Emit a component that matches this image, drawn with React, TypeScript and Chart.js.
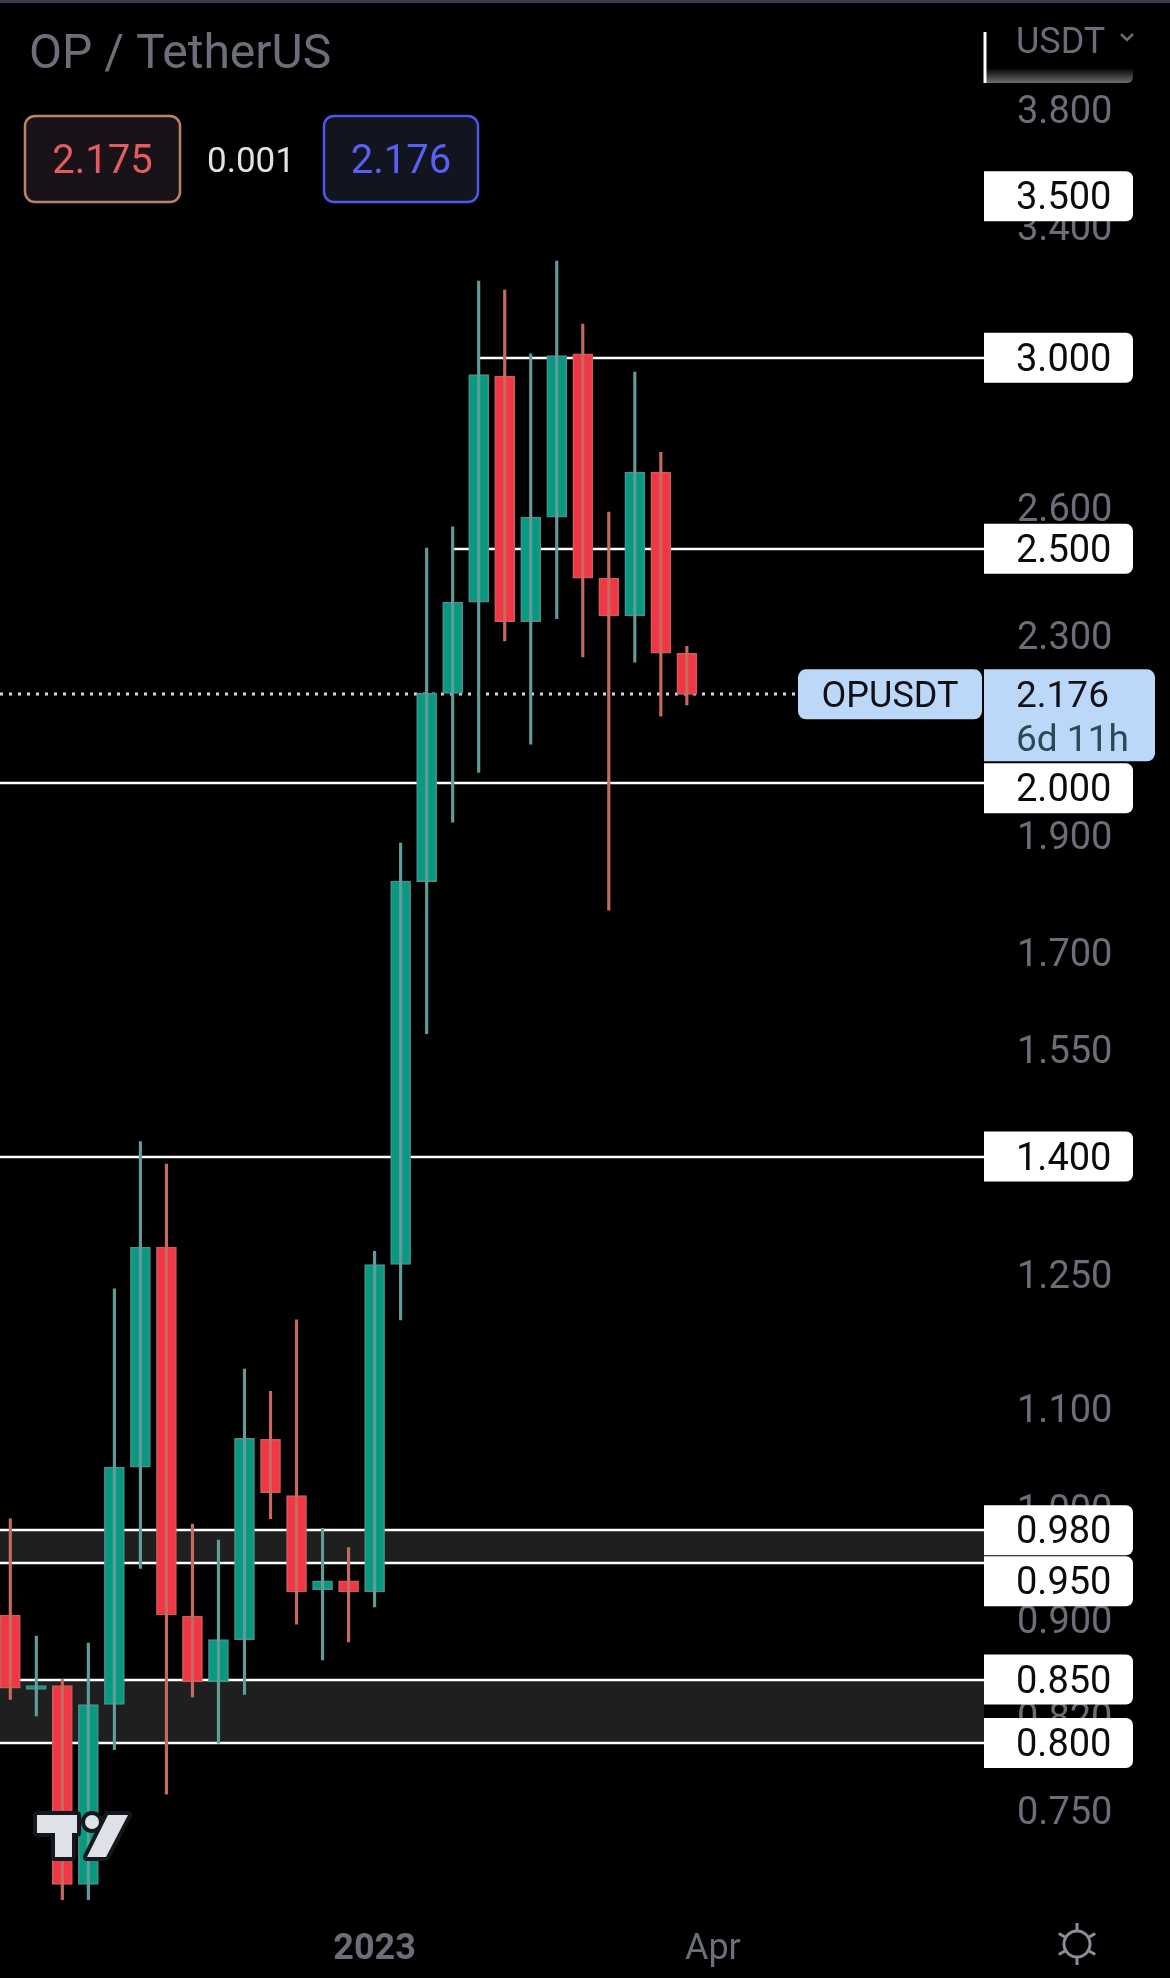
import React, { useEffect, useRef } from 'react';
import { Chart, registerables } from 'chart.js';

Chart.register(...registerables);

// ---- data (weekly candles, OP / TetherUS) ----
const weeks = [
  '2022-09-26', '2022-10-03', '2022-10-10', '2022-10-17', '2022-10-24', '2022-10-31',
  '2022-11-07', '2022-11-14', '2022-11-21', '2022-11-28', '2022-12-05', '2022-12-12',
  '2022-12-19', '2022-12-26', '2023-01-02', '2023-01-09', '2023-01-16', '2023-01-23',
  '2023-01-30', '2023-02-06', '2023-02-13', '2023-02-20', '2023-02-27', '2023-03-06',
  '2023-03-13', '2023-03-20', '2023-03-27',
];
const opens = [
  0.904, 0.842, 0.845, 0.699, 0.830, 1.041, 1.284, 0.903, 0.848, 0.883, 1.069, 1.013,
  0.926, 0.934, 0.924, 1.263, 1.820, 2.178, 2.376, 2.948, 2.332, 2.577, 3.011, 2.431,
  2.345, 2.690, 2.263,
];
const highs = [
  0.991, 0.886, 0.850, 0.880, 1.234, 1.420, 1.390, 0.986, 0.971, 1.143, 1.119, 1.198,
  0.982, 0.964, 1.279, 1.888, 2.502, 2.553, 3.228, 3.200, 3.011, 3.290, 3.098, 2.589,
  2.959, 2.741, 2.278,
];
const lows = [
  0.834, 0.821, 0.689, 0.689, 0.795, 0.945, 0.762, 0.836, 0.800, 0.838, 0.991, 0.896,
  0.866, 0.881, 0.911, 1.198, 1.574, 1.926, 2.020, 2.290, 2.075, 2.339, 2.255, 1.771,
  2.244, 2.131, 2.154,
];
const closes = [
  0.843, 0.845, 0.699, 0.830, 1.041, 1.284, 0.904, 0.848, 0.883, 1.070, 1.016, 0.924,
  0.934, 0.924, 1.263, 1.821, 2.178, 2.376, 2.952, 2.332, 2.577, 3.006, 2.431, 2.345,
  2.690, 2.263, 2.176,
];

const yTickValues = [3.8, 3.4, 2.6, 2.3, 1.9, 1.7, 1.55, 1.25, 1.1, 1.0, 0.9, 0.82, 0.75];
const xTickIndexes = [14, 27];
const xTickLabels = ['2023', 'Apr'];

const levelValues = [3.5, 3.0, 2.5, 2.0, 1.4, 0.98, 0.95, 0.85, 0.8];
// candle index where each horizontal line starts (-1 = from the left edge, null = label only)
const levelLineStart: (number | null)[] = [null, 18, 17, -1, -1, -1, -1, -1, -1];
const zoneLows = [0.95, 0.8];
const zoneHighs = [0.98, 0.85];

const lastPrice = 2.176;
const bidPrice = 2.175;
const askPrice = 2.176;
const spreadValue = 0.001;
const symbolName = 'OPUSDT';
const titleText = 'OP / TetherUS';
const countdownText = '6d 11h';
const quoteCurrency = 'USDT';

// ---- view ----
const X_MIN = -0.396;
const X_MAX = 37.42;
const Y_MIN = 0.6822;
const Y_MAX = 4.2206;

const UP = '#089981';
const DOWN = '#f23645';
const UP_WICK = '#5f9c9a';
const DOWN_WICK = '#c46a5e';
const UP_EDGE = '#4f8f8b';
const DOWN_EDGE = '#c8605a';
const AXIS_GRAY = '#6b6e79';
const FONT = 'Roboto, "Noto Sans", sans-serif';
const TXT_DY = 3.5;

function rr(ctx: CanvasRenderingContext2D, x: number, y: number, w: number, h: number, r: number[]) {
  const [tl, tr, br, bl] = r;
  ctx.beginPath();
  ctx.moveTo(x + tl, y);
  ctx.lineTo(x + w - tr, y);
  ctx.arcTo(x + w, y, x + w, y + tr, tr);
  ctx.lineTo(x + w, y + h - br);
  ctx.arcTo(x + w, y + h, x + w - br, y + h, br);
  ctx.lineTo(x + bl, y + h);
  ctx.arcTo(x, y + h, x, y + h - bl, bl);
  ctx.lineTo(x, y + tl);
  ctx.arcTo(x, y, x + tl, y, tl);
  ctx.closePath();
}

const overlayPlugin = {
  id: 'tvOverlay',
  beforeDatasetsDraw(chart: any) {
    const { ctx, chartArea: a, scales } = chart;
    const x = scales.x;
    const y = scales.y;
    ctx.save();
    // zones
    ctx.fillStyle = '#1f1f1f';
    zoneLows.forEach((lo, k) => {
      const top = y.getPixelForValue(zoneHighs[k]);
      const bot = y.getPixelForValue(lo);
      ctx.fillRect(a.left, top, a.right - a.left, bot - top);
    });
    // level lines
    ctx.strokeStyle = '#ffffff';
    ctx.lineWidth = 2.5;
    levelValues.forEach((v, k) => {
      const s = levelLineStart[k];
      if (s === null) return;
      const x0 = s < 0 ? a.left : x.getPixelForValue(s);
      const py = Math.round(y.getPixelForValue(v));
      ctx.beginPath();
      ctx.moveTo(x0, py);
      ctx.lineTo(a.right, py);
      ctx.stroke();
    });
    // last price dotted line
    const lp = Math.round(y.getPixelForValue(lastPrice));
    ctx.strokeStyle = '#d3d7ee';
    ctx.lineWidth = 3;
    ctx.setLineDash([3, 6]);
    ctx.beginPath();
    ctx.moveTo(a.left, lp);
    ctx.lineTo(a.right - 186, lp);
    ctx.stroke();
    ctx.setLineDash([]);
    ctx.restore();
  },
  afterDraw(chart: any) {
    const { ctx, chartArea: a, scales } = chart;
    const y = scales.y;
    const W = chart.width;
    ctx.save();

    // last price label geometry
    const lp = y.getPixelForValue(lastPrice);
    const pTop = lp - 25;
    const pBottom = pTop + 92;

    // axis level labels (pushed down when they would overlap)
    ctx.textBaseline = 'middle';
    ctx.textAlign = 'left';
    const items = levelValues
      .map((v) => ({ v, c: y.getPixelForValue(v) }))
      .sort((p, q) => p.c - q.c);
    let prevBottom = -Infinity;
    items.forEach(({ v, c }) => {
      let top = c - 25;
      if (top < pBottom && top + 50 > pTop) top = pBottom + 2;
      if (top < prevBottom + 1) top = prevBottom + 1;
      prevBottom = top + 50;
      ctx.fillStyle = '#ffffff';
      rr(ctx, a.right, top, 149, 50, [0, 7, 7, 0]);
      ctx.fill();
      ctx.fillStyle = '#0b0b0f';
      ctx.font = `38px ${FONT}`;
      ctx.fillText(v.toFixed(3), a.right + 32, top + 25 + TXT_DY);
    });

    // last price labels
    ctx.fillStyle = '#bcd8f9';
    rr(ctx, a.right - 186, pTop, 184, 50, [8, 8, 8, 8]);
    ctx.fill();
    rr(ctx, a.right, pTop, 171, 92, [0, 8, 8, 0]);
    ctx.fill();
    ctx.fillStyle = '#101015';
    ctx.font = `36px ${FONT}`;
    ctx.textAlign = 'center';
    ctx.fillText(symbolName, a.right - 94, lp + TXT_DY);
    ctx.textAlign = 'left';
    ctx.font = `37px ${FONT}`;
    ctx.fillText(lastPrice.toFixed(3), a.right + 32, lp + TXT_DY);
    ctx.fillStyle = '#2c4856';
    ctx.fillText(countdownText, a.right + 32, lp + 44 + TXT_DY);

    // top border
    ctx.fillStyle = '#3a3c47';
    ctx.fillRect(0, 0, W, 3);

    // header title
    ctx.textBaseline = 'alphabetic';
    ctx.fillStyle = '#6c6f7a';
    ctx.font = `48px ${FONT}`;
    ctx.fillText(titleText, 29, 68);

    // bid / ask boxes
    ctx.lineWidth = 2.5;
    ctx.fillStyle = '#1a1219';
    rr(ctx, 25, 116, 155, 86, [10, 10, 10, 10]);
    ctx.fill();
    ctx.strokeStyle = '#b98562';
    ctx.stroke();
    ctx.fillStyle = '#121520';
    rr(ctx, 324, 116, 154, 86, [10, 10, 10, 10]);
    ctx.fill();
    ctx.strokeStyle = '#4f55e8';
    ctx.stroke();
    ctx.font = `40px ${FONT}`;
    ctx.textAlign = 'center';
    ctx.fillStyle = '#e35c60';
    ctx.fillText(bidPrice.toFixed(3), 102.5, 173);
    ctx.fillStyle = '#5a60f2';
    ctx.fillText(askPrice.toFixed(3), 401, 173);
    ctx.fillStyle = '#e2e2e2';
    ctx.font = `35px ${FONT}`;
    ctx.fillText(spreadValue.toFixed(3), 251, 172);

    // currency selector top right
    ctx.textAlign = 'left';
    ctx.fillStyle = '#6a6d78';
    ctx.font = `36px ${FONT}`;
    ctx.fillText(quoteCurrency, 1016, 53);
    ctx.strokeStyle = '#6a6d78';
    ctx.lineWidth = 2.5;
    ctx.beginPath();
    ctx.moveTo(1121, 34);
    ctx.lineTo(1127, 40);
    ctx.lineTo(1133, 34);
    ctx.stroke();
    const g = ctx.createLinearGradient(0, 68, 0, 83);
    g.addColorStop(0, '#000000');
    g.addColorStop(1, '#6e6e72');
    ctx.fillStyle = g;
    rr(ctx, 986, 68, 147, 15, [0, 0, 6, 0]);
    ctx.fill();
    ctx.fillStyle = '#ffffff';
    ctx.fillRect(983.5, 32, 3, 51);

    // settings gear
    const gx = 1077, gy = 1944;
    ctx.strokeStyle = '#8b8e97';
    ctx.lineWidth = 3;
    ctx.beginPath();
    ctx.arc(gx, gy, 13, 0, Math.PI * 2);
    ctx.stroke();
    [90, 270, 30, 150, 210, 330].forEach((deg) => {
      const r = (deg * Math.PI) / 180;
      ctx.beginPath();
      ctx.moveTo(gx + Math.cos(r) * 14, gy - Math.sin(r) * 14);
      ctx.lineTo(gx + Math.cos(r) * 21, gy - Math.sin(r) * 21);
      ctx.stroke();
    });

    // TradingView logo
    const tShape = new Path2D();
    tShape.moveTo(37, 1815);
    tShape.lineTo(77, 1815);
    tShape.lineTo(77, 1833);
    tShape.lineTo(72, 1833);
    tShape.lineTo(72, 1857);
    tShape.lineTo(55, 1857);
    tShape.lineTo(55, 1833);
    tShape.lineTo(37, 1833);
    tShape.closePath();
    const dot = new Path2D();
    dot.arc(92, 1822, 7, 0, Math.PI * 2);
    const slash = new Path2D();
    slash.moveTo(108, 1815);
    slash.lineTo(128, 1815);
    slash.lineTo(106, 1857);
    slash.lineTo(87, 1857);
    slash.closePath();
    ctx.lineJoin = 'round';
    ctx.strokeStyle = '#15171e';
    ctx.lineWidth = 8;
    [tShape, dot, slash].forEach((p) => ctx.stroke(p));
    ctx.fillStyle = '#dfe1e8';
    [tShape, dot, slash].forEach((p) => ctx.fill(p));

    ctx.restore();
  },
};

export default function App() {
  const ref = useRef<HTMLCanvasElement | null>(null);

  useEffect(() => {
    if (!ref.current) return;
    const isUp = weeks.map((_, i) => closes[i] >= opens[i]);
    const chart = new Chart(ref.current, {
      type: 'bar',
      data: {
        datasets: [
          {
            label: 'wick',
            data: weeks.map((_, i) => ({ x: i, y: [lows[i], highs[i]] })) as any,
            backgroundColor: isUp.map((u) => (u ? UP_WICK : DOWN_WICK)),
            barThickness: 2.5,
            borderWidth: 0,
            grouped: false,
          } as any,
          {
            label: 'body',
            data: weeks.map((_, i) => ({ x: i, y: [opens[i], closes[i]] })) as any,
            backgroundColor: isUp.map((u) => (u ? UP : DOWN)),
            borderColor: isUp.map((u) => (u ? UP_EDGE : DOWN_EDGE)),
            borderWidth: 1.5,
            borderSkipped: false,
            barThickness: 20,
            grouped: false,
          } as any,
        ],
      },
      options: {
        responsive: false,
        animation: false,
        devicePixelRatio: 1,
        events: [],
        layout: { padding: 0, autoPadding: false } as any,
        plugins: { legend: { display: false }, tooltip: { enabled: false } },
        scales: {
          x: {
            type: 'linear',
            min: X_MIN,
            max: X_MAX,
            offset: false,
            grid: { display: false, drawTicks: false },
            border: { display: false },
            afterBuildTicks: (s: any) => {
              s.ticks = xTickIndexes.map((v) => ({ value: v }));
            },
            afterFit: (s: any) => {
              s.height = 68;
              s.paddingLeft = 0;
              s.paddingRight = 0;
              s.paddingTop = 0;
              s.paddingBottom = 0;
            },
            ticks: {
              autoSkip: false,
              maxRotation: 0,
              padding: 18,
              color: AXIS_GRAY,
              callback: (v: any) => {
                const k = xTickIndexes.indexOf(Number(v));
                return k >= 0 ? xTickLabels[k] : '';
              },
              font: (c: any) => ({
                family: FONT,
                size: 36,
                weight: c.tick && c.tick.value === 14 ? 'bold' : 'normal',
              }),
            },
          } as any,
          y: {
            type: 'logarithmic',
            position: 'right',
            min: Y_MIN,
            max: Y_MAX,
            bounds: 'data',
            grid: { display: false, drawTicks: false },
            border: { display: false },
            afterBuildTicks: (s: any) => {
              s.ticks = yTickValues.map((v) => ({ value: v }));
            },
            afterFit: (s: any) => {
              s.width = 186;
              s.paddingTop = 0;
              s.paddingBottom = 0;
              s.paddingLeft = 0;
              s.paddingRight = 0;
            },
            ticks: {
              autoSkip: false,
              padding: 33,
              labelOffset: TXT_DY,
              color: AXIS_GRAY,
              callback: (v: any) => Number(v).toFixed(3),
              font: { family: FONT, size: 38 },
            },
          } as any,
        },
      },
      plugins: [overlayPlugin],
    });
    return () => chart.destroy();
  }, []);

  return (
    <div style={{ position: 'absolute', left: 0, top: 0, width: 1170, height: 1978, background: '#000', overflow: 'hidden' }}>
      <canvas ref={ref} width={1170} height={1978} style={{ display: 'block' }} />
    </div>
  );
}
